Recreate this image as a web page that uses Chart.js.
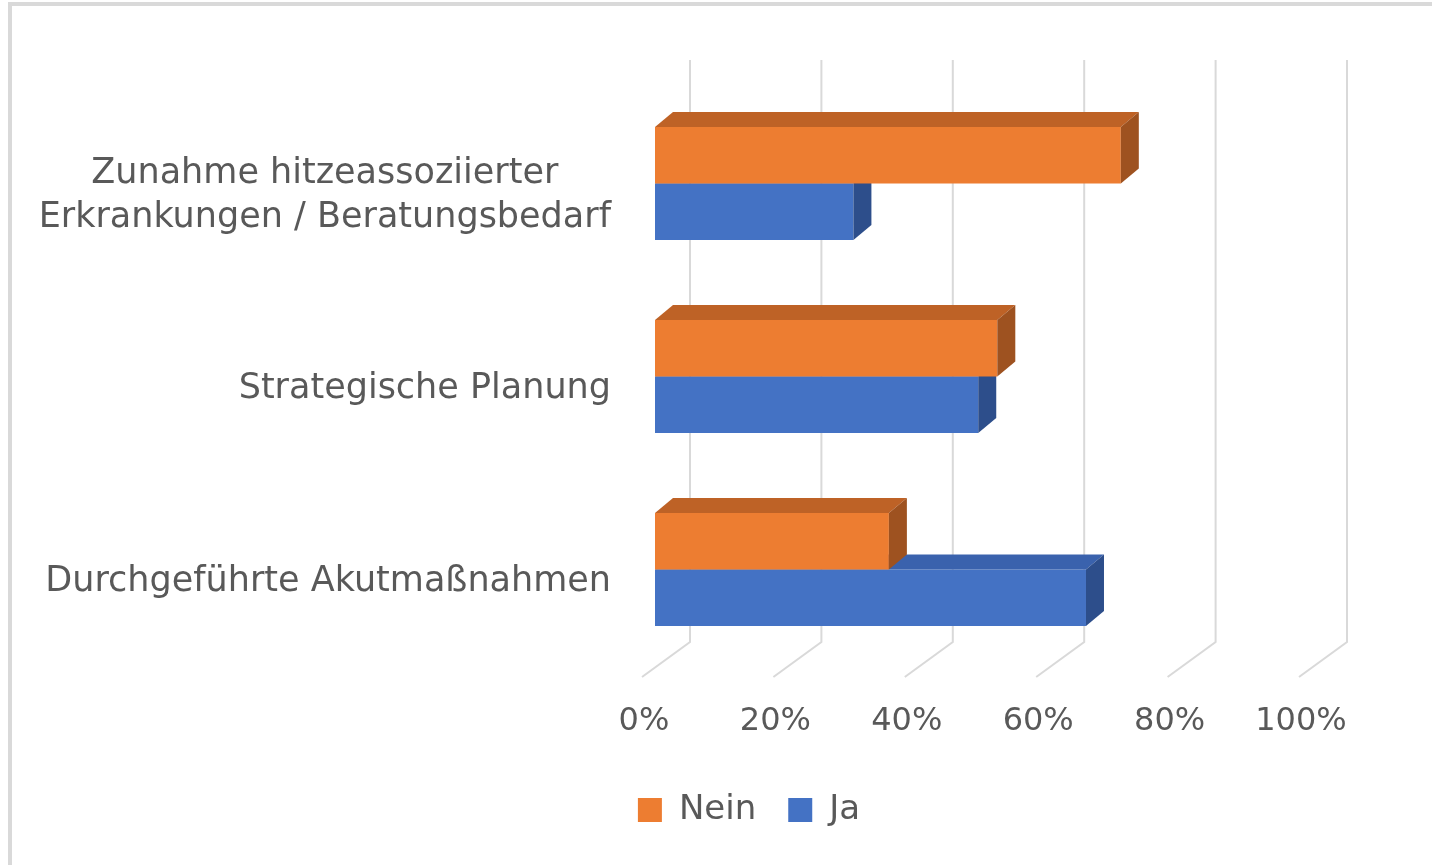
<!DOCTYPE html>
<html>
<head>
<meta charset="utf-8">
<script src="https://cdn.jsdelivr.net/npm/chart.js@4.4.1/dist/chart.umd.min.js"></script>
<style>
html,body{margin:0;padding:0;background:#ffffff;}
#wrap{position:relative;width:1432px;height:865px;}
</style>
</head>
<body>
<div id="wrap"><canvas id="c" width="1432" height="865"></canvas></div>
<script>
// ---- data ----
const categories = [
  ['Zunahme hitzeassoziierter', 'Erkrankungen / Beratungsbedarf'],
  'Strategische Planung',
  'Durchgeführte Akutmaßnahmen'
];
const seriesNames = ['Nein', 'Ja'];
const neinValues = [70.9, 52.1, 35.6];
const jaValues = [30.2, 49.2, 65.6];
const xTickValues = [0, 20, 40, 60, 80, 100];

// ---- styles ----
const FONT = 'DejaVu Sans';
const TEXT = '#595959';
const GRID = '#d9d9d9';
const faces = {
  Nein: { front: '#ED7D31', top: '#BE6226', side: '#9E5220' },
  Ja:   { front: '#4472C4', top: '#3A62AD', side: '#2D4E8B' }
};
const DEPTH = { dx: 18, dy: -15 };
const PAD_LEFT = 186;
const PLOT_LEFT = 655;

Chart.defaults.font.family = FONT;
Chart.defaults.color = TEXT;

const framePlugin = {
  id: 'frame',
  beforeDraw(chart) {
    const ctx = chart.ctx;
    ctx.save();
    ctx.fillStyle = '#ffffff';
    ctx.fillRect(0, 0, chart.width, chart.height);
    ctx.strokeStyle = GRID;
    ctx.lineWidth = 4;
    ctx.strokeRect(10, 4, chart.width + 20, chart.height + 20);
    ctx.restore();
  }
};

const gridPlugin = {
  id: 'grid3d',
  beforeDatasetsDraw(chart) {
    const ctx = chart.ctx, xs = chart.scales.x, a = chart.chartArea;
    ctx.save();
    ctx.strokeStyle = GRID;
    ctx.lineWidth = 2;
    xTickValues.forEach(v => {
      const px = xs.getPixelForValue(v);
      ctx.beginPath();
      ctx.moveTo(px + 35, a.top - 27);
      ctx.lineTo(px + 35, a.bottom - 24);
      ctx.lineTo(px - 13, a.bottom + 11);
      ctx.stroke();
    });
    ctx.restore();
  }
};

const barPlugin = {
  id: 'bars3d',
  afterDatasetDraw(chart, args) {
    const ctx = chart.ctx;
    const name = chart.data.datasets[args.index].label;
    const col = faces[name];
    ctx.save();
    args.meta.data.forEach(el => {
      const p = el.getProps(['x', 'y', 'base', 'height'], true);
      const top = p.y - p.height / 2, bottom = p.y + p.height / 2;
      const left = Math.min(p.base, p.x), right = Math.max(p.base, p.x);
      const dx = DEPTH.dx, dy = DEPTH.dy;
      ctx.fillStyle = col.top;
      ctx.beginPath();
      ctx.moveTo(left, top);
      ctx.lineTo(left + dx, top + dy);
      ctx.lineTo(right + dx, top + dy);
      ctx.lineTo(right, top);
      ctx.closePath();
      ctx.fill();
      ctx.fillStyle = col.side;
      ctx.beginPath();
      ctx.moveTo(right, top);
      ctx.lineTo(right + dx, top + dy);
      ctx.lineTo(right + dx, bottom + dy);
      ctx.lineTo(right, bottom);
      ctx.closePath();
      ctx.fill();
    });
    ctx.restore();
  }
};

const yLabelPlugin = {
  id: 'yLabels',
  afterDraw(chart) {
    const ctx = chart.ctx, ys = chart.scales.y, a = chart.chartArea;
    ctx.save();
    ctx.font = '35px "' + FONT + '"';
    ctx.fillStyle = TEXT;
    ctx.textAlign = 'center';
    ctx.textBaseline = 'middle';
    const right = a.left - 44;
    const lh = 44;
    chart.data.labels.forEach((lab, i) => {
      const lines = Array.isArray(lab) ? lab : [lab];
      const w = Math.max(...lines.map(l => ctx.measureText(l).width));
      const cy = ys.getPixelForTick(i) + 12;
      lines.forEach((l, j) => {
        ctx.fillText(l, right - w / 2, cy + (j - (lines.length - 1) / 2) * lh);
      });
    });
    ctx.restore();
  }
};

new Chart(document.getElementById('c'), {
  type: 'bar',
  data: {
    labels: categories,
    datasets: [
      { label: seriesNames[0], data: neinValues, backgroundColor: faces.Nein.front, borderWidth: 0 },
      { label: seriesNames[1], data: jaValues, backgroundColor: faces.Ja.front, borderWidth: 0 }
    ]
  },
  options: {
    indexAxis: 'y',
    responsive: false,
    animation: false,
    devicePixelRatio: 1,
    layout: { padding: { top: 87, right: 120, left: PAD_LEFT, bottom: 28 } },
    datasets: { bar: { categoryPercentage: 0.5855, barPercentage: 1.0 } },
    scales: {
      x: {
        min: 0, max: 100,
        afterBuildTicks(scale) { scale.ticks = xTickValues.map(v => ({ value: v })); },
        afterFit(scale) { scale.height = 95; },
        grid: { display: false, drawTicks: false },
        border: { display: false },
        ticks: {
          callback: v => v + '%',
          font: { size: 32 },
          color: TEXT,
          padding: 36,
          labelOffset: -11,
          maxRotation: 0
        }
      },
      y: {
        afterFit(scale) { scale.width = PLOT_LEFT - PAD_LEFT; },
        grid: { display: false, drawTicks: false },
        border: { display: false },
        ticks: { display: false }
      }
    },
    plugins: {
      legend: {
        position: 'bottom',
        labels: {
          boxWidth: 24, boxHeight: 24, padding: 32,
          font: { size: 34 }, color: TEXT
        }
      },
      tooltip: { enabled: false }
    }
  },
  plugins: [framePlugin, gridPlugin, barPlugin, yLabelPlugin]
});
</script>
</body>
</html>
